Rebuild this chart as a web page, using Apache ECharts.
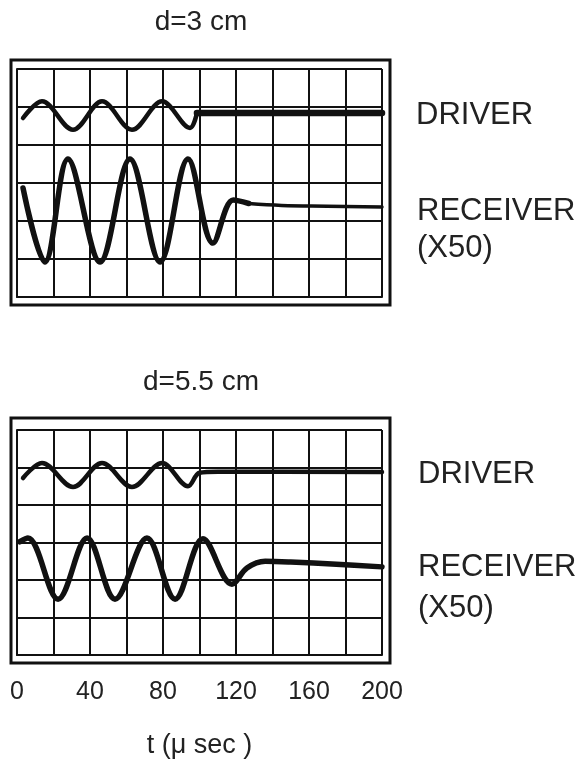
<!DOCTYPE html>
<html>
<head>
<meta charset="utf-8">
<script src="https://cdn.jsdelivr.net/npm/echarts@6.0.0/dist/echarts.min.js"></script>
<style>
html,body{margin:0;padding:0;background:#fff;}
#chart{width:582px;height:764px;}
</style>
</head>
<body>
<div id="chart"></div>
<script>
// ---- data (t in microseconds, value in grid divisions) ----
var xTickLabels = ['0', '40', '80', '120', '160', '200'];
var panelTitles = ['d=3 cm', 'd=5.5 cm'];
var traceNames = ['DRIVER', 'RECEIVER', '(X50)'];
var axisTitle = 't (\u03bc sec )';

// panel 1 : d = 3 cm  (start, peaks/troughs, settling)
var driverTop = [[3.3,4.71],[13.7,5.15],[30.7,4.40],[46.6,5.15],[63,4.40],[79.5,5.15],[94.8,4.45],[98.6,4.84]];
var driverTopTail = [[98.6,4.84],[200,4.84]];
var receiverTop = [[3.3,2.87],[15.3,0.92],[27.9,3.63],[45.5,0.92],[61.9,3.63],[78.4,0.92],[93.7,3.63],[107.4,1.42],[118.5,2.55],[127,2.46]];
var receiverTopTail = [[127,2.46],[145,2.41],[170,2.39],[200,2.37]];

// panel 2 : d = 5.5 cm
var driverBot = [[3.3,4.72],[13.7,5.12],[30.7,4.48],[46.6,5.12],[63,4.48],[79.5,5.12],[93.7,4.50],[100,4.86],[110,4.89],[200,4.88]];
var receiverBot = [[1.5,3.02],[6,3.12],[22.5,1.49],[38.4,3.12],[53.7,1.49],[71.2,3.12],[86.6,1.49],[101.9,3.10],[117.8,1.89],[126,2.32],[136,2.5],[150,2.48],[175,2.42],[200,2.35]];

var INK = '#111';
var FONT = '"Liberation Sans", Arial, sans-serif';

function gridX(gi, showLabels) {
  return {
    type: 'value', gridIndex: gi, min: 0, max: 200, interval: 20,
    axisLine: {show: true, lineStyle: {color: INK, width: 2}},
    axisTick: {show: false},
    splitLine: {show: true, lineStyle: {color: INK, width: 2}},
    axisLabel: {
      show: showLabels, color: '#222', fontSize: 25, fontFamily: FONT, margin: 25,
      formatter: function (v) { var s = String(v); return xTickLabels.indexOf(s) >= 0 ? s : ''; }
    },
    name: showLabels ? axisTitle : '',
    nameLocation: 'middle', nameGap: 77,
    nameTextStyle: {color: '#222', fontSize: 27, fontFamily: FONT}
  };
}
function gridY(gi) {
  return {
    type: 'value', gridIndex: gi, min: 0, max: 6, interval: 1,
    axisLine: {show: true, lineStyle: {color: INK, width: 2}},
    axisTick: {show: false}, axisLabel: {show: false},
    splitLine: {show: true, lineStyle: {color: INK, width: 2}}
  };
}
function hiddenAxis(gi) {
  return {type: 'value', gridIndex: gi, show: false, min: 0, max: 1, splitLine: {show: false}};
}
function trace(gi, data, w, sm) {
  return {
    type: 'line', xAxisIndex: gi, yAxisIndex: gi, data: data, smooth: sm,
    showSymbol: false, symbol: 'none', silent: true, animation: false,
    lineStyle: {color: INK, width: w, cap: 'round', join: 'round'}
  };
}
function label(txt, x, y, size) {
  return {type: 'text', x: x, y: y, silent: true,
    style: {text: txt, font: size + 'px ' + FONT, fill: '#222', textVerticalAlign: 'middle'}};
}
function ctitle(txt, x, y) {
  return {type: 'text', x: x, y: y, silent: true,
    style: {text: txt, font: '28px ' + FONT, fill: '#222', textAlign: 'center', textVerticalAlign: 'middle'}};
}

var chart = echarts.init(document.getElementById('chart'), null, {renderer: 'canvas'});
chart.setOption({
  backgroundColor: '#fff',
  animation: false,
  grid: [
    {left: 17, top: 69, width: 365, height: 228},
    {left: 17, top: 430, width: 365, height: 225},
    {left: 11, top: 60, width: 379, height: 245, show: true, borderColor: INK, borderWidth: 3, backgroundColor: 'transparent'},
    {left: 11, top: 418, width: 379, height: 245, show: true, borderColor: INK, borderWidth: 3, backgroundColor: 'transparent'}
  ],
  xAxis: [gridX(0, false), gridX(1, true), hiddenAxis(2), hiddenAxis(3)],
  yAxis: [gridY(0), gridY(1), hiddenAxis(2), hiddenAxis(3)],
  series: [
    trace(0, driverTop, 4.5, 0.35),
    trace(0, driverTopTail, 6.5, 0),
    trace(0, receiverTop, 5.5, 0.35),
    trace(0, receiverTopTail, 3.5, 0.4),
    trace(1, driverBot, 4.5, 0.35),
    trace(1, receiverBot, 5.5, 0.35)
  ],
  graphic: [
    ctitle(panelTitles[0], 201, 22),
    ctitle(panelTitles[1], 201, 382),
    label(traceNames[0], 416, 115, 31),
    label(traceNames[1], 417, 211, 31),
    label(traceNames[2], 417, 248, 31),
    label(traceNames[0], 418, 474, 31),
    label(traceNames[1], 418, 567, 31),
    label(traceNames[2], 418, 608, 31)
  ]
});
</script>
</body>
</html>
